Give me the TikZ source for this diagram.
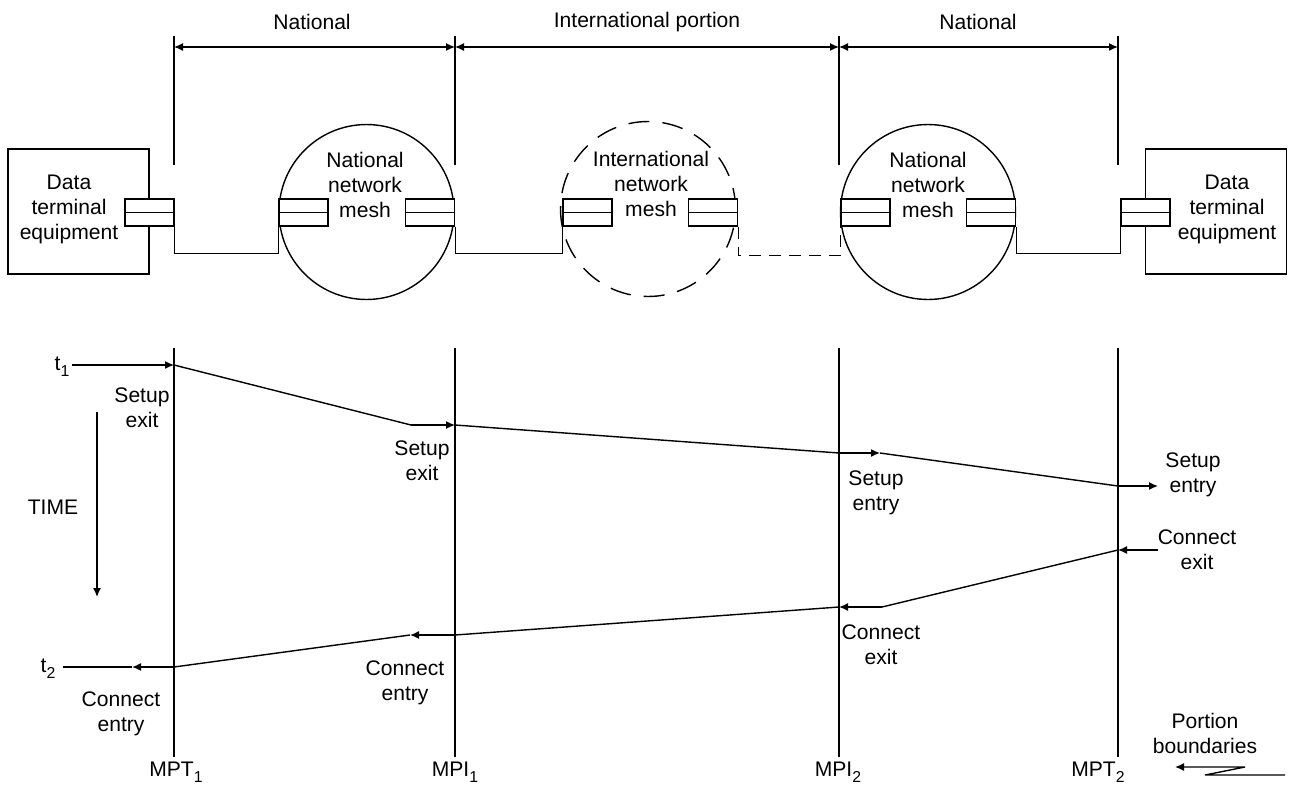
\documentclass[tikz,border=0pt]{standalone}
\usepackage{fontspec}
\setmainfont{Liberation Sans}
\usetikzlibrary{arrows.meta}
\newcommand{\lowidx}[1]{\raisebox{-0.55ex}{\fontsize{9}{9}\selectfont #1}}

\begin{document}
\begin{tikzpicture}[x=0.02cm, y=-0.02cm, line width=0.8pt,
    font=\fontsize{12}{14.2}\selectfont,
    lbl/.style={align=center, inner sep=0pt},
    plug/.style={draw, fill=white, minimum width=0.98cm, minimum height=0.54cm, inner sep=0pt,
      path picture={\draw (path picture bounding box.west) -- (path picture bounding box.east);}},
    mesh/.style={draw, circle, minimum size=3.5cm, inner sep=0pt},
    dte/.style={draw, minimum width=2.82cm, minimum height=2.5cm, inner sep=0pt},
    sig/.style={-{Latex[length=1.8mm,width=1.6mm]}},
    dim/.style={{Latex[length=1.8mm,width=1.6mm]}-{Latex[length=1.8mm,width=1.6mm]}}]
  \useasboundingbox (0,0) rectangle (1291,785);

  % Portions and their boundaries
  \node[lbl] (nat1 lbl) at (312,22) {National};
  \node[lbl] (int lbl) at (647,22) {International portion};
  \node[lbl] (nat2 lbl) at (978,22) {National};
  \coordinate (top1) at (174,36);  \coordinate (dim1) at (174,47);  \coordinate (low1) at (174,165);
  \coordinate (top2) at (455,36);  \coordinate (dim2) at (455,47);  \coordinate (low2) at (455,165);
  \coordinate (top3) at (839,36);  \coordinate (dim3) at (839,47);  \coordinate (low3) at (839,165);
  \coordinate (top4) at (1118,36); \coordinate (dim4) at (1118,47); \coordinate (low4) at (1118,165);
  \draw (top1) -- (low1);
  \draw (top2) -- (low2);
  \draw (top3) -- (low3);
  \draw (top4) -- (low4);
  \draw[dim] (dim1) -- (dim2);
  \draw[dim] (dim2) -- (dim3);
  \draw[dim] (dim3) -- (dim4);

  % Terminals and network meshes
  \node[dte] (dte1) at (78.5,211.5) {};
  \node[lbl] (dte1 txt) at (69,209) {Data\\terminal\\equipment};
  \node[dte] (dte2) at (1216,211.5) {};
  \node[lbl] (dte2 txt) at (1227,209) {Data\\terminal\\equipment};
  \node[mesh] (mesh1) at (366.5,212) {};
  \node[lbl] (mesh1 txt) at (365,185) {National\\network\\mesh};
  \node[mesh, dash pattern=on 0.42cm off 0.26cm] (mesh2) at (648,209) {};
  \node[lbl] (mesh2 txt) at (651,184) {International\\network\\mesh};
  \node[mesh] (mesh3) at (928,212) {};
  \node[lbl] (mesh3 txt) at (928,185) {National\\network\\mesh};

  % Interfaces
  \node[plug] (p1) at (149.5,212.5) {};
  \node[plug] (p2) at (303.5,212.5) {};
  \node[plug] (p3) at (430,212.5) {};
  \node[plug] (p4) at (587.5,212.5) {};
  \node[plug] (p5) at (713,212.5) {};
  \node[plug] (p6) at (865.5,212.5) {};
  \node[plug] (p7) at (991,212.5) {};
  \node[plug] (p8) at (1145.5,212.5) {};
  \draw (p1.south east) -- ++(0,27) -| (p2.south west);
  \draw (p3.south east) -- ++(0,27) -| (p4.south west);
  \draw[dash pattern=on 0.24cm off 0.16cm] (p5.south east) -- ++(0,29) -| (p6.south west);
  \draw (p7.south east) -- ++(0,27) -| (p8.south west);

  % Measurement points
  \coordinate (head1) at (174,348);  \coordinate (foot1) at (174,757);
  \coordinate (head2) at (455,348);  \coordinate (foot2) at (455,757);
  \coordinate (head3) at (839,348);  \coordinate (foot3) at (839,757);
  \coordinate (head4) at (1118,348); \coordinate (foot4) at (1118,757);
  \draw (head1) -- (foot1);
  \draw (head2) -- (foot2);
  \draw (head3) -- (foot3);
  \draw (head4) -- (foot4);
  \node[lbl] (mpt1) at (176,772) {MPT\lowidx{1}};
  \node[lbl] (mpi1) at (455,772) {MPI\lowidx{1}};
  \node[lbl] (mpi2) at (838,772) {MPI\lowidx{2}};
  \node[lbl] (mpt2) at (1098,772) {MPT\lowidx{2}};

  % Setup
  \node[lbl] (t1) at (62,367) {t\lowidx{1}};
  \coordinate (t1 start) at (72,365);
  \coordinate (s1) at (174,365);
  \coordinate (s2) at (411,425);  \coordinate (s3) at (455,425);
  \coordinate (s4) at (839,453);  \coordinate (s5) at (880,453);
  \coordinate (s6) at (1118,486); \coordinate (s7) at (1158,486);
  \draw[sig] (t1 start) -- (s1);
  \draw (s1) -- (s2);
  \draw[sig] (s2) -- (s3);
  \draw (s3) -- (s4);
  \draw[sig] (s4) -- (s5);
  \draw (s5) -- (s6);
  \draw[sig] (s6) -- (s7);
  \node[lbl] (setup exit1) at (142,407.5) {Setup\\exit};
  \node[lbl] (setup exit2) at (422,460.5) {Setup\\exit};
  \node[lbl] (setup entry1) at (876,493) {Setup\\entry};
  \node[lbl] (setup entry2) at (1193,475) {Setup\\entry};

  % Connect
  \coordinate (c1) at (1158,550); \coordinate (c2) at (1118,550);
  \coordinate (c3) at (882,607);  \coordinate (c4) at (839,607);
  \coordinate (c5) at (455,635);  \coordinate (c6) at (410,635);
  \coordinate (c7) at (174,667);  \coordinate (c8) at (132,667);
  \coordinate (t2 end) at (63,667);
  \draw[sig] (c1) -- (c2);
  \draw (c2) -- (c3);
  \draw[sig] (c3) -- (c4);
  \draw (c4) -- (c5);
  \draw[sig] (c5) -- (c6);
  \draw (c6) -- (c7);
  \draw[sig] (c7) -- (c8);
  \draw (c8) -- (t2 end);
  \node[lbl] (t2) at (48,669) {t\lowidx{2}};
  \node[lbl] (connect exit1) at (1197,550) {Connect\\exit};
  \node[lbl] (connect exit2) at (881,645) {Connect\\exit};
  \node[lbl] (connect entry1) at (405,683) {Connect\\entry};
  \node[lbl] (connect entry2) at (121,714) {Connect\\entry};

  % Time axis
  \node[lbl] (time) at (53,507) {TIME};
  \coordinate (time top) at (97,412);
  \coordinate (time end) at (97,597);
  \draw[sig] (time top) -- (time end);

  % Portion boundaries
  \node[lbl] (pb) at (1205,733) {Portion\\boundaries};
  \coordinate (zz1) at (1285,775); \coordinate (zz2) at (1205,775);
  \coordinate (zz3) at (1245,767); \coordinate (zz4) at (1175,767);
  \draw[sig] (zz1) -- (zz2) -- (zz3) -- (zz4);
\end{tikzpicture}
\end{document}
